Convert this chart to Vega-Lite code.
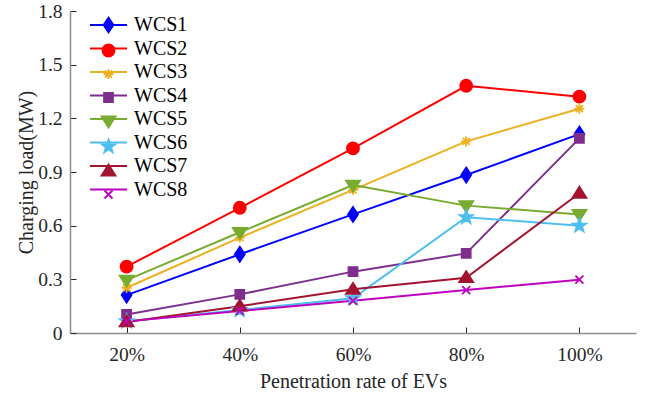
{
  "$schema": "https://vega.github.io/schema/vega-lite/v6.json",
  "width": 566,
  "height": 322,
  "autosize": {"type": "none"},
  "padding": {"left": 70, "top": 11, "right": 9, "bottom": 62},
  "background": "white",
  "config": {
    "view": {"stroke": null},
    "font": "Liberation Serif",
    "legend": {
      "padding": 0,
      "labelFont": "Liberation Serif",
      "labelFontSize": 20,
      "labelColor": "#000000",
      "labelOffset": 15.5,
      "rowPadding": 3.5,
      "symbolSize": 196,
      "symbolStrokeWidth": 1.8
    }
  },
  "data": {
    "values": [
      {"rate": 20, "series": "WCS1", "load": 0.212},
      {"rate": 40, "series": "WCS1", "load": 0.44},
      {"rate": 60, "series": "WCS1", "load": 0.663},
      {"rate": 80, "series": "WCS1", "load": 0.883},
      {"rate": 100, "series": "WCS1", "load": 1.112},
      {"rate": 20, "series": "WCS2", "load": 0.371},
      {"rate": 40, "series": "WCS2", "load": 0.70},
      {"rate": 60, "series": "WCS2", "load": 1.032},
      {"rate": 80, "series": "WCS2", "load": 1.382},
      {"rate": 100, "series": "WCS2", "load": 1.321},
      {"rate": 20, "series": "WCS3", "load": 0.253},
      {"rate": 40, "series": "WCS3", "load": 0.533},
      {"rate": 60, "series": "WCS3", "load": 0.80},
      {"rate": 80, "series": "WCS3", "load": 1.071},
      {"rate": 100, "series": "WCS3", "load": 1.254},
      {"rate": 20, "series": "WCS4", "load": 0.104},
      {"rate": 40, "series": "WCS4", "load": 0.216},
      {"rate": 60, "series": "WCS4", "load": 0.343},
      {"rate": 80, "series": "WCS4", "load": 0.445},
      {"rate": 100, "series": "WCS4", "load": 1.088},
      {"rate": 20, "series": "WCS5", "load": 0.296},
      {"rate": 40, "series": "WCS5", "load": 0.563},
      {"rate": 60, "series": "WCS5", "load": 0.827},
      {"rate": 80, "series": "WCS5", "load": 0.712},
      {"rate": 100, "series": "WCS5", "load": 0.663},
      {"rate": 20, "series": "WCS6", "load": 0.065},
      {"rate": 40, "series": "WCS6", "load": 0.128},
      {"rate": 60, "series": "WCS6", "load": 0.194},
      {"rate": 80, "series": "WCS6", "load": 0.647},
      {"rate": 100, "series": "WCS6", "load": 0.60},
      {"rate": 20, "series": "WCS7", "load": 0.062},
      {"rate": 40, "series": "WCS7", "load": 0.15},
      {"rate": 60, "series": "WCS7", "load": 0.244},
      {"rate": 80, "series": "WCS7", "load": 0.309},
      {"rate": 100, "series": "WCS7", "load": 0.781},
      {"rate": 20, "series": "WCS8", "load": 0.065},
      {"rate": 40, "series": "WCS8", "load": 0.123},
      {"rate": 60, "series": "WCS8", "load": 0.18},
      {"rate": 80, "series": "WCS8", "load": 0.24},
      {"rate": 100, "series": "WCS8", "load": 0.298}
    ]
  },
  "encoding": {
    "x": {
      "field": "rate",
      "type": "quantitative",
      "scale": {"domain": [10, 110], "nice": false, "zero": false},
      "axis": {
        "title": "Penetration rate of EVs",
        "values": [20, 40, 60, 80, 100],
        "labelExpr": "datum.value + '%'",
        "labelFont": "Liberation Serif",
        "titleFont": "Liberation Serif",
        "labelFontSize": 19.5,
        "titleFontSize": 20,
        "titleFontWeight": "normal",
        "labelColor": "#262626",
        "titleColor": "#262626",
        "domainColor": "#8c8c8c",
        "domainWidth": 1.5,
        "tickColor": "#262626",
        "tickSize": -6,
        "grid": false,
        "labelPadding": 18,
        "titlePadding": 8
      }
    },
    "y": {
      "field": "load",
      "type": "quantitative",
      "scale": {"domain": [0, 1.8], "nice": false},
      "axis": {
        "title": "Charging load(MW)",
        "values": [0, 0.3, 0.6, 0.9, 1.2, 1.5, 1.8],
        "labelExpr": "datum.value == 0 ? '0' : format(datum.value, '.1f')",
        "labelFont": "Liberation Serif",
        "titleFont": "Liberation Serif",
        "labelFontSize": 19.5,
        "titleFontSize": 20,
        "titleFontWeight": "normal",
        "labelColor": "#262626",
        "titleColor": "#262626",
        "domainColor": "#8c8c8c",
        "domainWidth": 1.5,
        "tickColor": "#262626",
        "tickSize": -6,
        "grid": false,
        "labelPadding": 14,
        "titlePadding": 1
      }
    }
  },
  "layer": [
    {
      "mark": {"type": "line", "strokeWidth": 2},
      "encoding": {
        "color": {
          "field": "series",
          "type": "nominal",
          "scale": {"domain": ["WCS1","WCS2","WCS3","WCS4","WCS5","WCS6","WCS7","WCS8"], "range": ["#0000FF","#FF0000","#EDB120","#7E2F8E","#77AC30","#4DBEEE","#A2142F","#BF00BF"]},
          "legend": {
            "title": null,
            "orient": "none",
            "legendX": 28.5,
            "legendY": 4,
            "padding": 0,
            "symbolType": "M-2.65,0L2.65,0",
            "symbolSize": 196,
            "symbolStrokeWidth": 2,
            "labelOffset": 15.5,
            "rowPadding": 3.5,
            "labelFont": "Liberation Serif",
            "labelFontSize": 20,
            "labelColor": "#000000"
          }
        }
      }
    },
    {
      "mark": {"type": "point", "size": 196, "strokeWidth": 1.8, "opacity": 1},
      "encoding": {
        "shape": {
          "field": "series",
          "type": "nominal",
          "scale": {
            "range": [
              "M0,-1.07L0.71,0L0,1.07L-0.71,0Z",
              "M-0.86,0A0.86,0.86 0 1,0 0.86,0A0.86,0.86 0 1,0 -0.86,0Z",
              "M-0.71,0L0.71,0M0,-0.71L0,0.71M-0.5,-0.5L0.5,0.5M-0.5,0.5L0.5,-0.5",
              "M-0.64,-0.64L0.64,-0.64L0.64,0.64L-0.64,0.64Z",
              "M-1,-0.64L1,-0.64L0,0.93Z",
              "M0,-1L0.235,-0.324L0.951,-0.309L0.38,0.124L0.588,0.809L0,0.4L-0.588,0.809L-0.38,0.124L-0.951,-0.309L-0.235,-0.324Z",
              "M-1,0.64L1,0.64L0,-0.93Z",
              "M-0.57,-0.57L0.57,0.57M-0.57,0.57L0.57,-0.57"
            ]
          },
          "legend": {
            "title": null,
            "orient": "none",
            "legendX": 28.5,
            "legendY": 4,
            "padding": 0,
            "symbolSize": 196,
            "symbolStrokeWidth": 1.8,
            "labelOffset": 15.5,
            "rowPadding": 3.5,
            "labelFont": "Liberation Serif",
            "labelFontSize": 20,
            "labelOpacity": 0
          }
        },
        "fill": {
          "field": "series",
          "type": "nominal",
          "scale": {"range": ["#0000FF","#FF0000","#EDB120","#7E2F8E","#77AC30","#4DBEEE","#A2142F","#BF00BF"]},
          "legend": {
            "title": null,
            "orient": "none",
            "legendX": 28.5,
            "legendY": 4,
            "padding": 0,
            "symbolSize": 196,
            "symbolStrokeWidth": 1.8,
            "labelOffset": 15.5,
            "rowPadding": 3.5,
            "labelFont": "Liberation Serif",
            "labelFontSize": 20,
            "labelOpacity": 0
          }
        },
        "stroke": {
          "field": "series",
          "type": "nominal",
          "scale": {"range": ["#0000FF","#FF0000","#EDB120","#7E2F8E","#77AC30","#4DBEEE","#A2142F","#BF00BF"]},
          "legend": {
            "title": null,
            "orient": "none",
            "legendX": 28.5,
            "legendY": 4,
            "padding": 0,
            "symbolSize": 196,
            "symbolStrokeWidth": 1.8,
            "labelOffset": 15.5,
            "rowPadding": 3.5,
            "labelFont": "Liberation Serif",
            "labelFontSize": 20,
            "labelOpacity": 0
          }
        }
      }
    }
  ]
}
